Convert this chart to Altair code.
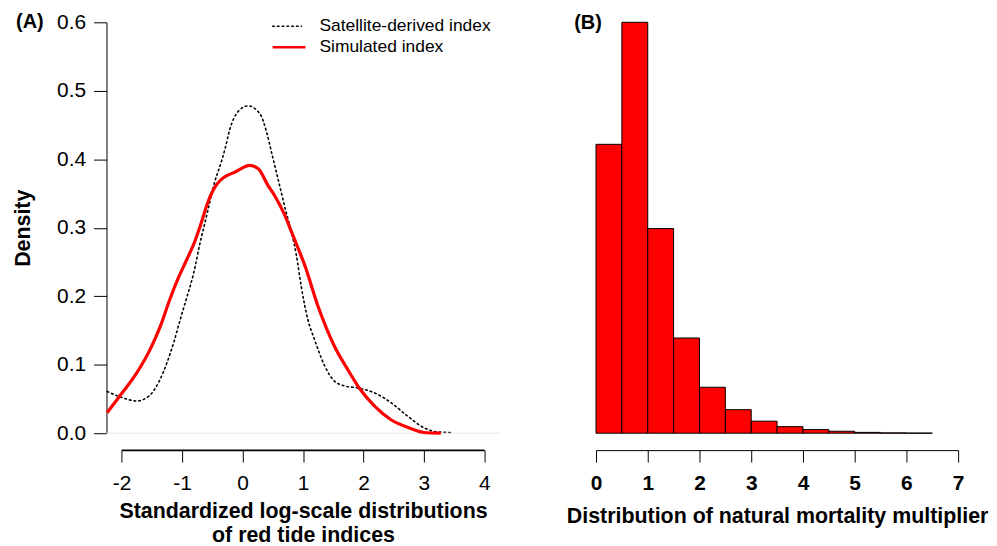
import altair as alt
import pandas as pd

FONT = "Liberation Sans"

# ---------------- Panel A: density curves ----------------
sat_x = [-2.24, -1.99, -1.75, -1.55, -1.39, -1.25, -1.14, -1.03, -0.92, -0.81, -0.70,
         -0.62, -0.54, -0.46, -0.37, -0.29, -0.21, -0.07, 0.09, 0.29, 0.40, 0.48, 0.56,
         0.64, 0.72, 0.81, 0.89, 0.97, 1.08, 1.19, 1.36, 1.52, 1.69, 1.91, 2.18, 2.45,
         2.73, 3.00, 3.22, 3.47]
sat_y = [0.061, 0.052, 0.047, 0.054, 0.074, 0.103, 0.132, 0.166, 0.199, 0.233, 0.279,
         0.308, 0.338, 0.367, 0.391, 0.415, 0.444, 0.470, 0.478, 0.466, 0.439, 0.410, 0.381,
         0.352, 0.323, 0.294, 0.260, 0.215, 0.166, 0.137, 0.098, 0.076, 0.069, 0.066, 0.059, 0.045,
         0.025, 0.008, 0.002, 0.001]

sim_x = [-2.24, -1.99, -1.75, -1.53, -1.36, -1.20, -1.06, -0.92, -0.79, -0.68, -0.57,
         -0.46, -0.37, -0.26, -0.13, 0.12, 0.26, 0.42, 0.53, 0.70, 0.81, 0.92, 1.03,
         1.25, 1.52, 1.74, 1.93, 2.18, 2.45, 2.78, 3.00, 3.28]
sim_y = [0.030, 0.059, 0.088, 0.122, 0.156, 0.196, 0.227, 0.254, 0.280, 0.308, 0.338,
         0.359, 0.369, 0.376, 0.381, 0.391, 0.386, 0.362, 0.347, 0.318, 0.294, 0.270, 0.245,
         0.185, 0.127, 0.093, 0.066, 0.040, 0.020, 0.007, 0.001, 0.0]

x_ticks_a = [-2, -1, 0, 1, 2, 3, 4]
y_ticks_a = [0.0, 0.1, 0.2, 0.3, 0.4, 0.5, 0.6]
legend_labels = ["Satellite-derived index", "Simulated index"]

# ---------------- Panel B: histogram ----------------
bin_start = [0.0, 0.5, 1.0, 1.5, 2.0, 2.5, 3.0, 3.5, 4.0, 4.5, 5.0, 5.5, 6.0]
bin_end = [0.5, 1.0, 1.5, 2.0, 2.5, 3.0, 3.5, 4.0, 4.5, 5.0, 5.5, 6.0, 6.5]
bin_density = [0.528, 0.751, 0.374, 0.174, 0.084, 0.043, 0.022, 0.012, 0.0066,
               0.0036, 0.0015, 0.0006, 0.0002]
x_ticks_b = [0, 1, 2, 3, 4, 5, 6, 7]

WA, HA = 395, 413
WB, HB = 364, 413
OFF = 17

# panel A plot region spans x in [-2.25, 4.25]; the axis (and scale domain) spans -2..4
XLO, XHI = -2.25, 4.25
r0 = (x_ticks_a[0] - XLO) / (XHI - XLO) * WA
r1 = (x_ticks_a[-1] - XLO) / (XHI - XLO) * WA
Y_AXIS_POS = -0.6 * OFF / HA

sat_df = pd.DataFrame({"x": sat_x, "y": sat_y, "series": legend_labels[0]})
sim_df = pd.DataFrame({"x": sim_x, "y": sim_y, "series": legend_labels[1]})
hist_df = pd.DataFrame({"start": bin_start, "end": bin_end, "density": bin_density})

xscale_a = alt.Scale(domain=[x_ticks_a[0], x_ticks_a[-1]], range=[r0, r1], nice=False, zero=False)
yscale_a = alt.Scale(domain=[0, 0.6], nice=False)

xa = alt.X("x:Q", scale=xscale_a,
           axis=alt.Axis(values=x_ticks_a, domain=True, domainColor="black", domainWidth=1.2,
                         domainOpacity=1, tickSize=12,
                         tickColor="black", tickWidth=1, offset=OFF, labelFontSize=21,
                         labelFont=FONT, labelColor="black", labelPadding=11, grid=False,
                         labelExpr="'' + datum.value",
                         title=["Standardized log-scale distributions", "of red tide indices"],
                         titleFontSize=21.5, titleFont=FONT, titleColor="black",
                         titleFontWeight="bold", titlePadding=7, titleLineHeight=23.5,
                         labelFlush=False))
ya = alt.Y("y:Q", scale=yscale_a,
           axis=alt.Axis(values=y_ticks_a, format=".1f", domainColor="black", domainWidth=1,
                         tickSize=13, tickColor="black", labelFontSize=21, labelFont=FONT,
                         labelColor="black", labelPadding=8, grid=False, title="Density",
                         titleFontSize=21.5, titleFont=FONT, titleColor="black",
                         titleFontWeight="bold", titlePadding=22, labelFlush=False))

sat_line = alt.Chart(sat_df).mark_line(color="black", strokeWidth=1.6, strokeDash=[1.6, 3.2],
                                       interpolate="monotone", strokeCap="round").encode(x=xa, y=ya)
sim_line = alt.Chart(sim_df).mark_line(color="#ff0000", strokeWidth=3.2,
                                       interpolate="monotone").encode(x="x:Q", y="y:Q")

zero_line = alt.Chart(pd.DataFrame({"y": [0.0]})).mark_rule(color="#e6e6e6", strokeWidth=1).encode(
    y="y:Q", x=alt.value(0), x2=alt.value(WA))

axis_rule = alt.Chart(pd.DataFrame({"a": [x_ticks_a[0]]})).mark_rule(
    color="black", strokeWidth=1.2, clip=False).encode(
    x=alt.datum(x_ticks_a[0]), x2=alt.datum(x_ticks_a[-1]), y=alt.datum(Y_AXIS_POS))

leg_sat = alt.Chart(pd.DataFrame({"label": [legend_labels[0]]})).mark_rule(
    color="black", strokeWidth=1.6, strokeDash=[1.6, 3.2], strokeCap="round").encode(
    x=alt.value(167), x2=alt.value(196), y=alt.value(4))
leg_sim = alt.Chart(pd.DataFrame({"label": [legend_labels[1]]})).mark_rule(
    color="#ff0000", strokeWidth=2.5).encode(
    x=alt.value(167), x2=alt.value(200), y=alt.value(25))
leg_txt1 = alt.Chart(pd.DataFrame({"label": [legend_labels[0]]})).mark_text(
    align="left", baseline="middle", font=FONT, fontSize=17.5, color="black").encode(
    x=alt.value(214), y=alt.value(4), text="label:N")
leg_txt2 = alt.Chart(pd.DataFrame({"label": [legend_labels[1]]})).mark_text(
    align="left", baseline="middle", font=FONT, fontSize=17.5, color="black").encode(
    x=alt.value(214), y=alt.value(25), text="label:N")

tag_a = alt.Chart(pd.DataFrame({"t": ["(A)"]})).mark_text(
    align="center", baseline="middle", font=FONT, fontSize=20, fontWeight="bold", color="black"
).encode(x=alt.value(-77), y=alt.value(0), text="t:N")

panel_a = alt.layer(sat_line, zero_line, sim_line, axis_rule, leg_sat, leg_sim,
                    leg_txt1, leg_txt2, tag_a).properties(width=WA, height=HA)

# Panel B
bars = alt.Chart(hist_df).mark_rect(color="#ff0000", stroke="black", strokeWidth=1).encode(
    x=alt.X("start:Q", scale=alt.Scale(domain=[0, 7], nice=False),
            axis=alt.Axis(values=x_ticks_b, domainColor="black", domainWidth=1, tickSize=12,
                          tickColor="black", offset=OFF, labelFontSize=21, labelFont=FONT,
                          labelFontWeight="bold", labelColor="black", labelPadding=11, grid=False,
                          title="Distribution of natural mortality multiplier",
                          titleFontSize=21.5, titleFont=FONT, titleColor="black",
                          titleFontWeight="bold", titlePadding=12, labelFlush=False)),
    x2="end:Q",
    y=alt.Y("density:Q", scale=alt.Scale(domain=[0, 0.751], nice=False), axis=None),
    y2=alt.datum(0),
)
tag_b = alt.Chart(pd.DataFrame({"t": ["(B)"]})).mark_text(
    align="center", baseline="middle", font=FONT, fontSize=20, fontWeight="bold", color="black"
).encode(x=alt.value(-8), y=alt.value(1), text="t:N")

panel_b = alt.layer(bars, tag_b).properties(width=WB, height=HB)

chart = alt.hconcat(panel_a, panel_b, spacing=97, bounds="flush").properties(
    padding={"left": 4, "top": 2, "right": 0, "bottom": 0}
).configure(background="white").configure_view(strokeWidth=0, stroke="transparent")

chart.save("out.html", embed_options={"renderer": "svg", "actions": False})
